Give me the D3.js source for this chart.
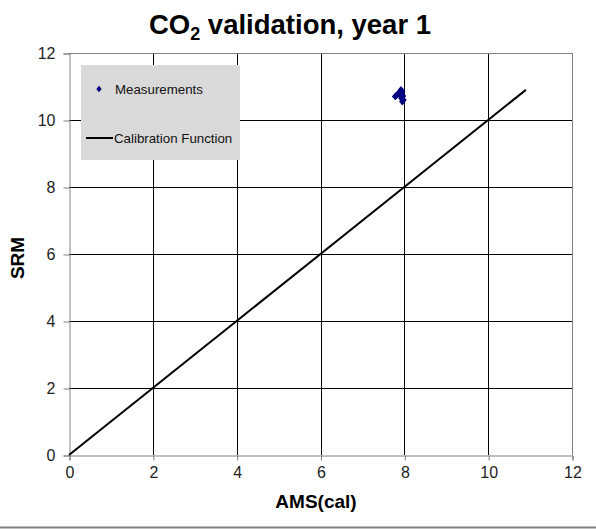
<!DOCTYPE html>
<html>
<head>
<meta charset="utf-8">
<script src="https://cdn.jsdelivr.net/npm/d3@7"></script>
<style>
  body { margin: 0; background: #fff; }
  svg { display: block; font-family: "Liberation Sans", Arial, sans-serif; }
</style>
</head>
<body>
<svg id="chart"></svg>
<script>
// Data
const calibX = [0, 10.9];
const calibY = [0, 10.9];
const measX = [7.92, 7.95, 7.88, 7.85, 7.8, 7.78, 7.9, 7.97, 7.93, 7.98, 7.95];
const measY = [10.9, 10.85, 10.82, 10.78, 10.72, 10.7, 10.74, 10.72, 10.65, 10.6, 10.55];
const xTicks = [0, 2, 4, 6, 8, 10, 12];
const yTicks = [0, 2, 4, 6, 8, 10, 12];

const width = 596;
const height = 529;
const margin = { top: 53, right: 24, bottom: 74, left: 69 };

const svg = d3.select("#chart").attr("width", width).attr("height", height);

const xScale = d3.scaleLinear().domain([0, 12]).range([margin.left, width - margin.right]);
const yScale = d3.scaleLinear().domain([0, 12]).range([height - margin.bottom, margin.top]);

// Gridlines
svg.append("g")
  .selectAll("line")
  .data(xTicks.slice(1, -1))
  .enter()
  .append("line")
  .attr("x1", (d) => Math.round(xScale(d)) + 0.5)
  .attr("x2", (d) => Math.round(xScale(d)) + 0.5)
  .attr("y1", yScale(0))
  .attr("y2", yScale(12))
  .attr("stroke", "#000");

svg.append("g")
  .selectAll("line")
  .data(yTicks.slice(1))
  .enter()
  .append("line")
  .attr("x1", xScale(0))
  .attr("x2", xScale(12))
  .attr("y1", (d) => Math.round(yScale(d)) + 0.5)
  .attr("y2", (d) => Math.round(yScale(d)) + 0.5)
  .attr("stroke", (d) => (d === 12 ? "#808080" : "#000"));

// right border
svg.append("line")
  .attr("x1", Math.round(xScale(12)) + 0.5)
  .attr("x2", Math.round(xScale(12)) + 0.5)
  .attr("y1", yScale(0))
  .attr("y2", yScale(12))
  .attr("stroke", "#808080");

// Axes
const xAxis = d3.axisBottom(xScale).tickValues(xTicks).tickSizeOuter(0).tickSize(5).tickPadding(6);
const yAxis = d3.axisLeft(yScale).tickValues(yTicks).tickSizeOuter(0).tickSize(6).tickPadding(8);

const gx = svg.append("g")
  .attr("transform", `translate(0.5, ${Math.round(yScale(0)) + 0.5})`)
  .call(xAxis);
const gy = svg.append("g")
  .attr("transform", `translate(${xScale(0) + 0.5}, 0.5)`)
  .call(yAxis);

[gx, gy].forEach((g) => {
  g.attr("font-size", 16).attr("font-family", "'Liberation Sans', Arial, sans-serif");
  g.select(".domain").attr("stroke", "#808080");
  g.selectAll(".tick line").attr("stroke", "#808080");
  g.selectAll("text").attr("fill", "#222");
});

// Calibration line
const calib = calibX.map((x, i) => ({ x: x, y: calibY[i] }));
svg.append("path")
  .datum(calib)
  .attr("fill", "none")
  .attr("stroke", "#000")
  .attr("stroke-width", 2)
  .attr("d", d3.line().x((d) => xScale(d.x)).y((d) => yScale(d.y)));

// Measurements (diamonds)
const diamond = "M0,-3.8L3.2,0L0,3.8L-3.2,0Z";
const meas = measX.map((x, i) => ({ x: x, y: measY[i] }));
svg.append("g")
  .selectAll("path")
  .data(meas)
  .enter()
  .append("path")
  .attr("d", diamond)
  .attr("transform", (d) => `translate(${xScale(d.x)}, ${yScale(d.y)})`)
  .attr("fill", "#000080");

// Legend
const legend = svg.append("g").attr("transform", "translate(81, 65)");
legend.append("rect")
  .attr("width", 159)
  .attr("height", 95)
  .attr("fill", "#d9d9d9");
legend.append("path")
  .attr("d", "M0,-3.2L2.7,0L0,3.2L-2.7,0Z")
  .attr("transform", "translate(18, 24)")
  .attr("fill", "#000080");
legend.append("text")
  .attr("x", 34)
  .attr("y", 28.5)
  .attr("fill", "#111")
  .style("font-size", "13.3px")
  .text("Measurements");
legend.append("line")
  .attr("x1", 5)
  .attr("x2", 32)
  .attr("y1", 73)
  .attr("y2", 73)
  .attr("stroke", "#000")
  .attr("stroke-width", 2);
legend.append("text")
  .attr("x", 33)
  .attr("y", 77.5)
  .attr("fill", "#111")
  .style("font-size", "13.3px")
  .text("Calibration Function");

// Title
const title = svg.append("text")
  .attr("x", 290)
  .attr("y", 34)
  .attr("text-anchor", "middle")
  .attr("font-weight", "bold")
  .style("font-size", "27.5px");
title.append("tspan").text("CO");
title.append("tspan").attr("dy", 6).style("font-size", "18px").text("2");
title.append("tspan").attr("dy", -6).text(" validation, year 1");

// Axis labels
svg.append("text")
  .attr("x", 316)
  .attr("y", 508)
  .attr("text-anchor", "middle")
  .attr("font-weight", "bold")
  .style("font-size", "19px")
  .text("AMS(cal)");

svg.append("text")
  .attr("transform", "translate(24, 258) rotate(-90)")
  .attr("text-anchor", "middle")
  .attr("font-weight", "bold")
  .style("font-size", "19px")
  .text("SRM");

// bottom border of chart area
svg.append("line")
  .attr("x1", 0)
  .attr("x2", width)
  .attr("y1", 527.5)
  .attr("y2", 527.5)
  .attr("stroke", "#808080")
  .attr("stroke-width", 2);
</script>
</body>
</html>
